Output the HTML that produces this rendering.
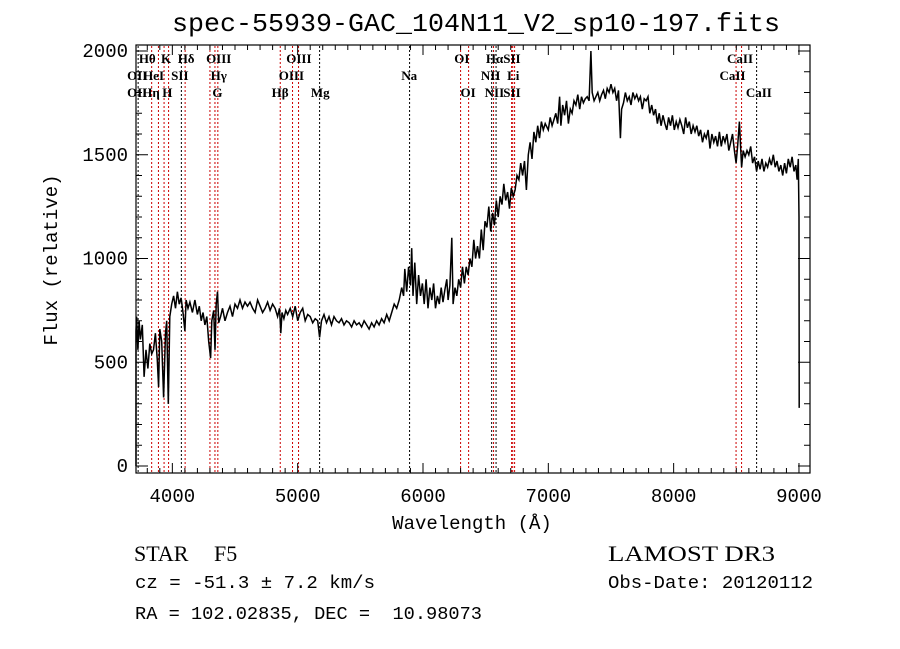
<!DOCTYPE html>
<html><head><meta charset="utf-8"><style>
html,body{margin:0;padding:0;background:#fff;width:900px;height:649px;overflow:hidden}
svg{display:block}
text{fill:#000}
.mono{font-family:"Liberation Mono",monospace}
.ser{font-family:"Liberation Serif",serif}
</style></head><body>
<svg id="chart" width="900" height="649" viewBox="0 0 900 649" xmlns="http://www.w3.org/2000/svg">
<rect width="900" height="649" fill="#fff"/>
<text class="mono" x="172" y="31" font-size="26" textLength="608" lengthAdjust="spacingAndGlyphs">spec-55939-GAC_104N11_V2_sp10-197.fits</text>
<g id="lines"></g>
<g id="labels"></g>
<path id="spec" fill="none" stroke="#000" stroke-width="1.5"/>
<g id="axes"></g>
<rect x="136" y="45" width="674" height="428" fill="none" stroke="#000" stroke-width="1.2"/>
<text class="mono" font-size="19" transform="translate(57,260) rotate(-90)" text-anchor="middle">Flux (relative)</text>
<text class="mono" font-size="19" x="472" y="529" text-anchor="middle">Wavelength (Å)</text>
<text class="ser" font-size="22" x="134" y="561">STAR</text>
<text class="ser" font-size="22" x="214" y="561">F5</text>
<text class="ser" font-size="22" x="608" y="561" textLength="167" lengthAdjust="spacingAndGlyphs">LAMOST DR3</text>
<text class="mono" font-size="18" x="135" y="588" textLength="240" lengthAdjust="spacingAndGlyphs">cz = -51.3 ± 7.2 km/s</text>
<text class="mono" font-size="18" x="608" y="588" textLength="205" lengthAdjust="spacingAndGlyphs">Obs-Date: 20120112</text>
<text class="mono" font-size="18" x="135" y="619" textLength="347" lengthAdjust="spacingAndGlyphs" xml:space="preserve">RA = 102.02835, DEC =  10.98073</text>
</svg>
<script>
const waves=[3700,3705,3715,3725,3735,3745,3760,3775,3790,3805,3820,3835,3850,3865,3880,3890,3900,3915,3930,3945,3955,3968,3980,3995,4010,4025,4040,4055,4070,4085,4100,4110,4125,4140,4160,4180,4200,4215,4230,4245,4260,4275,4290,4305,4315,4330,4340,4350,4360,4370,4385,4400,4420,4440,4460,4480,4500,4520,4540,4560,4580,4600,4620,4640,4660,4680,4700,4720,4740,4760,4780,4800,4820,4840,4855,4865,4875,4890,4905,4920,4940,4960,4980,5000,5020,5040,5060,5080,5100,5120,5140,5160,5175,5190,5210,5230,5250,5270,5290,5310,5330,5350,5370,5390,5410,5430,5450,5470,5490,5510,5530,5550,5570,5590,5610,5630,5650,5670,5690,5710,5730,5750,5770,5790,5810,5830,5845,5855,5870,5885,5900,5910,5920,5935,5950,5965,5980,5995,6010,6025,6040,6055,6070,6085,6100,6115,6130,6145,6160,6175,6190,6200,6215,6230,6240,6255,6270,6285,6300,6315,6330,6345,6360,6375,6390,6405,6420,6435,6450,6465,6480,6495,6510,6525,6540,6555,6570,6585,6600,6615,6630,6645,6660,6675,6690,6705,6720,6735,6750,6765,6780,6795,6810,6825,6840,6855,6870,6885,6900,6915,6930,6945,6960,6975,7000,7015,7030,7045,7060,7075,7090,7100,7115,7130,7145,7160,7175,7190,7205,7220,7235,7250,7265,7280,7295,7310,7325,7340,7350,7365,7380,7395,7410,7425,7440,7455,7470,7485,7500,7515,7530,7545,7560,7575,7585,7600,7615,7630,7645,7660,7675,7690,7705,7720,7735,7750,7765,7780,7795,7810,7825,7840,7855,7870,7885,7900,7915,7930,7945,7960,7975,7990,8005,8020,8035,8050,8065,8080,8095,8110,8125,8140,8155,8170,8185,8200,8215,8230,8245,8260,8275,8290,8305,8320,8335,8350,8365,8380,8395,8410,8425,8440,8455,8470,8485,8498,8510,8525,8542,8555,8570,8585,8600,8615,8630,8645,8662,8675,8690,8705,8720,8735,8750,8765,8780,8795,8810,8825,8840,8855,8870,8885,8900,8915,8930,8945,8960,8975,8985,8995,9000,9002];
const flux=[0,650,720,560,700,610,680,430,560,470,590,540,560,640,510,380,660,600,330,640,700,300,720,780,820,760,840,780,810,740,650,800,760,790,740,800,730,770,700,740,680,720,600,520,700,750,560,780,840,690,720,760,700,740,770,720,780,760,800,760,790,770,790,760,740,800,770,740,760,790,750,780,760,720,760,640,740,710,750,730,760,720,770,700,740,760,700,730,720,690,710,700,620,700,730,690,720,680,720,700,690,710,680,700,690,670,700,680,690,670,700,680,660,690,670,700,680,710,690,730,700,740,780,760,800,860,820,950,840,960,870,1050,820,980,780,920,820,880,780,900,760,860,800,880,760,820,780,860,790,850,900,800,870,1100,780,860,820,900,860,960,880,960,920,1000,960,1090,1000,1060,1000,1140,1040,1180,1150,1250,1130,1220,1160,1280,1200,1300,1260,1360,1280,1320,1240,1340,1300,1330,1400,1380,1460,1400,1470,1330,1500,1560,1480,1610,1560,1640,1580,1660,1620,1650,1620,1680,1640,1670,1700,1650,1780,1640,1740,1690,1760,1650,1720,1700,1760,1740,1790,1720,1780,1750,1770,1780,1760,2000,1800,1760,1780,1800,1760,1790,1810,1770,1820,1800,1840,1800,1820,1760,1810,1580,1720,1750,1800,1760,1780,1740,1800,1770,1790,1760,1780,1720,1770,1760,1780,1700,1740,1690,1720,1650,1700,1640,1690,1650,1620,1680,1640,1690,1620,1660,1630,1670,1640,1600,1680,1630,1660,1600,1640,1610,1640,1590,1620,1560,1600,1580,1620,1530,1600,1560,1590,1540,1610,1540,1590,1560,1600,1520,1560,1600,1520,1460,1540,1660,1440,1520,1490,1520,1500,1540,1460,1490,1420,1470,1430,1480,1420,1460,1440,1480,1450,1500,1440,1470,1420,1450,1400,1460,1410,1480,1440,1490,1420,1450,1380,1480,1200,280];
const lineWaves=[3727,3835,3889,3934,3970,4072,4102,4300,4340,4363,4861,4959,5007,5175,5893,6300,6364,6548,6563,6583,6707,6716,6731,8498,8542,8662];
const lineColors=["#000","#c00","#c00","#c00","#c00","#000","#c00","#c00","#c00","#c00","#c00","#c00","#c00","#000","#000","#c00","#c00","#000","#c00","#000","#c00","#c00","#c00","#c00","#c00","#000"];
const labelNames=["Hθ","K","Hδ","OIII","OIII","OI","HαSII","CaII","OII","HeI","SII","Hγ","OIII","Na","NII","Li","CaII","OII","Hη","H","G","Hβ","Mg","OI","NII","SII","CaII"];
const labelWaves=[3800,3950,4110,4370,5010,6310,6640,8530,3720,3850,4060,4370,4950,5890,6540,6720,8470,3720,3830,3960,4360,4860,5180,6360,6570,6710,8680];
const labelRows=[1,1,1,1,1,1,1,1,2,2,2,2,2,2,2,2,2,3,3,3,3,3,3,3,3,3,3];
const xTicks=[4000,5000,6000,7000,8000,9000];
const yTicks=[0,500,1000,1500,2000];
const NS="http://www.w3.org/2000/svg";
const X0=136,X1=810,W0=3710,W1=9088;
function xs(w){return X0+(w-W0)/(W1-W0)*(X1-X0);}
function ys(v){return 466-v*0.2075;}
function mk(tag,attrs,parent){const e=document.createElementNS(NS,tag);for(const k in attrs)e.setAttribute(k,attrs[k]);parent.appendChild(e);return e;}
let d="";
waves.forEach((w,i)=>{d+=(i?"L":"M")+Math.max(X0,xs(w)).toFixed(1)+","+ys(flux[i]).toFixed(1);});
document.getElementById("spec").setAttribute("d",d);
const lg=document.getElementById("lines");
lineWaves.forEach((w,i)=>{
 const l=mk("line",{x1:xs(w),x2:xs(w),y1:46,y2:472,stroke:lineColors[i],"stroke-width":1,"stroke-dasharray":"2,2"},lg);
 
 
});
const lb=document.getElementById("labels");
labelNames.forEach((n,i)=>{
 const t=mk("text",{x:xs(labelWaves[i]),y:46+labelRows[i]*17,"text-anchor":"middle","font-size":"13","font-weight":"bold","class":"ser"},lb);
 t.textContent=n;
 
 
});
const ax=document.getElementById("axes");
for(let w=3800;w<=9000;w+=100){
 const major=w%1000===0, len=major?10:5;
 mk("line",{x1:xs(w),x2:xs(w),y1:473,y2:473-len,stroke:"#000"},ax);
 mk("line",{x1:xs(w),x2:xs(w),y1:45,y2:45+len,stroke:"#000"},ax);
}
for(let v=0;v<=2000;v+=100){
 const major=v%500===0, len=major?12:6;
 mk("line",{x1:136,x2:136+len,y1:ys(v),y2:ys(v),stroke:"#000"},ax);
 mk("line",{x1:810,x2:810-len,y1:ys(v),y2:ys(v),stroke:"#000"},ax);
}
xTicks.forEach(w=>{
 const t=mk("text",{x:xs(w),y:502,"text-anchor":"middle","font-size":"19","class":"mono"},ax);
 t.textContent=w;
 
 
});
yTicks.forEach(v=>{
 const t=mk("text",{x:128,y:ys(v)+6,"text-anchor":"end","font-size":"19","class":"mono"},ax);
 t.textContent=v;
 
 
});
</script>
</body></html>
